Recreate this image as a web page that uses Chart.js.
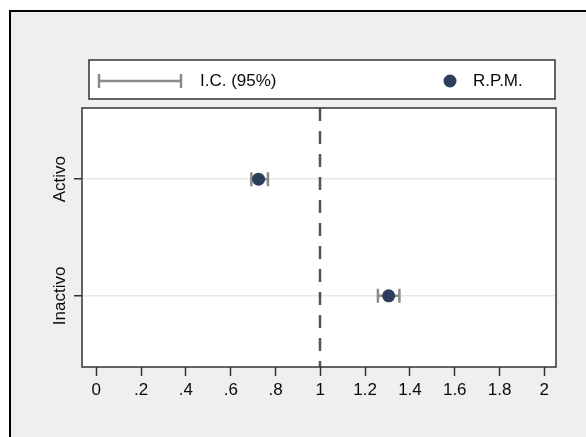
<!DOCTYPE html>
<html>
<head>
<meta charset="utf-8">
<script src="https://cdn.jsdelivr.net/npm/chart.js@4/dist/chart.umd.min.js"></script>
<style>
html,body{margin:0;padding:0;background:#fff;}
#wrap{width:586px;height:437px;}
</style>
</head>
<body>
<div id="wrap"><canvas id="c" width="586" height="437"></canvas></div>
<script>
const categories = ['Activo', 'Inactivo'];
const rpm = [0.724, 1.305];
const ciLow = [0.692, 1.257];
const ciHigh = [0.766, 1.353];
const xTickValues = [0, 0.2, 0.4, 0.6, 0.8, 1, 1.2, 1.4, 1.6, 1.8, 2];
const xTickLabels = ['0', '.2', '.4', '.6', '.8', '1', '1.2', '1.4', '1.6', '1.8', '2'];
const refValue = 1;
const legendLabels = ['I.C. (95%)', 'R.P.M.'];

const FONT = "'Liberation Sans', Arial, sans-serif";
const TEXT = '#0a0a0a';
const yPos = categories.map((c, i) => categories.length - 1 - i);

const bgPlugin = {
  id: 'bg',
  beforeDraw(chart) {
    const ctx = chart.ctx, a = chart.chartArea;
    ctx.save();
    ctx.fillStyle = '#ffffff';
    ctx.fillRect(0, 0, chart.width, chart.height);
    ctx.fillStyle = '#efefef';
    ctx.fillRect(10, 11, chart.width, chart.height);
    ctx.strokeStyle = '#000';
    ctx.lineWidth = 2;
    ctx.strokeRect(10, 11, chart.width + 20, chart.height + 20);
    ctx.fillStyle = '#ffffff';
    ctx.fillRect(a.left, a.top, a.right - a.left, a.bottom - a.top);
    ctx.restore();
  },
  beforeDatasetsDraw(chart) {
    const ctx = chart.ctx, a = chart.chartArea;
    const xs = chart.scales.x, ys = chart.scales.y;
    ctx.save();
    // reference line
    const rx = Math.round(xs.getPixelForValue(refValue));
    ctx.strokeStyle = '#555';
    ctx.lineWidth = 2.5;
    ctx.setLineDash([13, 10]);
    ctx.beginPath();
    ctx.moveTo(rx, a.top);
    ctx.lineTo(rx, a.bottom);
    ctx.stroke();
    ctx.setLineDash([]);
    // error bars
    ctx.strokeStyle = '#8a8a8a';
    ctx.lineWidth = 2.5;
    for (let i = 0; i < categories.length; i++) {
      const y = ys.getPixelForValue(yPos[i]);
      const x1 = xs.getPixelForValue(ciLow[i]);
      const x2 = xs.getPixelForValue(ciHigh[i]);
      ctx.beginPath();
      ctx.moveTo(x1, y); ctx.lineTo(x2, y);
      ctx.moveTo(x1, y - 7); ctx.lineTo(x1, y + 7);
      ctx.moveTo(x2, y - 7); ctx.lineTo(x2, y + 7);
      ctx.stroke();
    }
    ctx.restore();
  },
  afterDraw(chart) {
    const ctx = chart.ctx, a = chart.chartArea;
    const ys = chart.scales.y;
    ctx.save();
    ctx.strokeStyle = '#333';
    ctx.lineWidth = 1.5;
    ctx.strokeRect(a.left, a.top, a.right - a.left, a.bottom - a.top);
    // y category labels (rotated, centred on ticks)
    ctx.fillStyle = TEXT;
    ctx.font = '17px ' + FONT;
    ctx.textAlign = 'center';
    ctx.textBaseline = 'middle';
    for (let i = 0; i < categories.length; i++) {
      const y = ys.getPixelForValue(yPos[i]);
      ctx.save();
      ctx.translate(60, y);
      ctx.rotate(-Math.PI / 2);
      ctx.fillText(categories[i], 0, 0);
      ctx.restore();
    }
    // legend
    const lx = 89, ly = 60, lw = 466, lh = 39;
    ctx.fillStyle = '#fff';
    ctx.fillRect(lx, ly, lw, lh);
    ctx.strokeStyle = '#333';
    ctx.lineWidth = 1.5;
    ctx.strokeRect(lx, ly, lw, lh);
    const cy = ly + 21;
    ctx.strokeStyle = '#8a8a8a';
    ctx.lineWidth = 2.5;
    ctx.beginPath();
    ctx.moveTo(99, cy); ctx.lineTo(181, cy);
    ctx.moveTo(99, cy - 7); ctx.lineTo(99, cy + 7);
    ctx.moveTo(181, cy - 7); ctx.lineTo(181, cy + 7);
    ctx.stroke();
    ctx.fillStyle = '#2c3e5c';
    ctx.beginPath();
    ctx.arc(450, cy, 6.5, 0, Math.PI * 2);
    ctx.fill();
    ctx.fillStyle = TEXT;
    ctx.font = '17px ' + FONT;
    ctx.textBaseline = 'middle';
    ctx.textAlign = 'left';
    ctx.fillText(legendLabels[0], 200, cy);
    ctx.fillText(legendLabels[1], 473, cy);
    ctx.restore();
  }
};

new Chart(document.getElementById('c'), {
  type: 'scatter',
  data: {
    datasets: [{
      label: legendLabels[1],
      data: rpm.map((v, i) => ({ x: v, y: yPos[i] })),
      backgroundColor: '#2c3e5c',
      borderColor: '#2c3e5c',
      pointRadius: 6.5,
      pointHoverRadius: 6.5,
      borderWidth: 0
    }]
  },
  options: {
    responsive: false,
    animation: false,
    devicePixelRatio: 1,
    layout: { padding: { left: 0, top: 108, right: 30, bottom: 0 } },
    plugins: { legend: { display: false }, tooltip: { enabled: false } },
    scales: {
      x: {
        type: 'linear',
        min: -0.064,
        max: 2.052,
        afterBuildTicks(scale) { scale.ticks = xTickValues.map(v => ({ value: v })); },
        afterFit(scale) { scale.height = 70; },
        ticks: {
          autoSkip: false,
          maxRotation: 0,
          color: TEXT,
          font: { family: FONT, size: 17 },
          padding: 4,
          callback(value, index) { return xTickLabels[index]; }
        },
        grid: { drawOnChartArea: false, drawTicks: true, tickLength: 9, tickColor: '#333', tickWidth: 1.5 },
        border: { display: false }
      },
      y: {
        type: 'linear',
        min: -0.61,
        max: 1.61,
        afterBuildTicks(scale) { scale.ticks = yPos.map(v => ({ value: v })); },
        afterFit(scale) { scale.width = 82; },
        ticks: { display: false },
        grid: { color: '#e8e8e8', lineWidth: 1.5, drawTicks: true, tickLength: 8, tickColor: '#333', tickWidth: 1.5 },
        border: { display: false }
      }
    }
  },
  plugins: [bgPlugin]
});
</script>
</body>
</html>
